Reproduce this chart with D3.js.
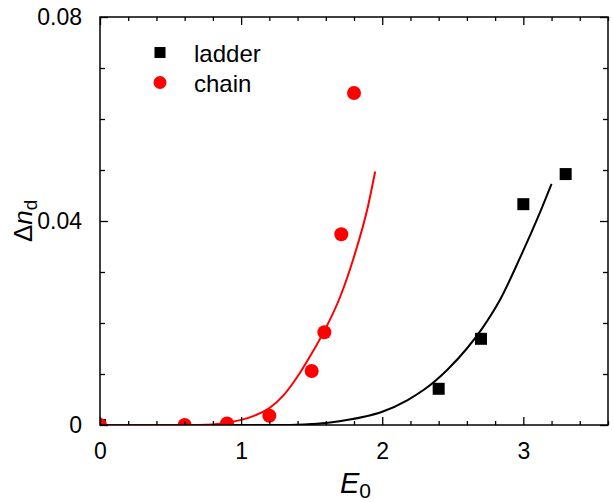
<!DOCTYPE html>
<html>
<head>
<meta charset="utf-8">
<script src="https://cdn.jsdelivr.net/npm/d3@7.9.0/dist/d3.min.js"></script>
<style>
  body { margin: 0; background: #fff; }
  svg text { font-family: "Liberation Sans", Arial, sans-serif; }
</style>
</head>
<body>
<svg id="chart" width="613" height="502"></svg>
<script>
// measured points
const ladderE = [0, 2.4, 2.7, 3.0, 3.3];
const ladderDn = [0, 0.0071, 0.0169, 0.0433, 0.0492];
const chainE = [0, 0.6, 0.9, 1.2, 1.5, 1.59, 1.71, 1.8];
const chainDn = [0, 0, 0.0003, 0.0018, 0.0106, 0.0182, 0.0374, 0.0651];

// fit curves
const chainFitE = [0, 0.7, 0.9, 1.0, 1.1, 1.2, 1.3, 1.4, 1.5, 1.6, 1.7, 1.8, 1.9, 1.95];
const chainFitDn = [0, 0, 0.0004, 0.0010, 0.0019, 0.0033, 0.0058, 0.0095, 0.0140, 0.0190, 0.0250, 0.0330, 0.0430, 0.0497];
const ladderFitE = [0, 1.3, 1.5, 1.63, 1.87, 2.0, 2.18, 2.3, 2.46, 2.6, 2.71, 2.83, 2.98, 3.1, 3.2];
const ladderFitDn = [0, 0, 0.0002, 0.0005, 0.0016, 0.0026, 0.0049, 0.0070, 0.0108, 0.0150, 0.0190, 0.0243, 0.0330, 0.0405, 0.0473];

const xTicks = [0, 1, 2, 3];
const yTicks = [0, 0.04, 0.08];
const yTickLabels = ['0', '0.04', '0.08'];

const margin = { left: 100, top: 17, right: 5, bottom: 77 };
const W = 613, H = 502;
const w = W - margin.left - margin.right;
const h = H - margin.top - margin.bottom;

const svg = d3.select('#chart');
const g = svg.append('g').attr('transform', `translate(${margin.left},${margin.top})`);

const x = d3.scaleLinear().domain([0, 3.6]).range([0, w]);
const y = d3.scaleLinear().domain([0, 0.08]).range([h, 0]);

g.append('clipPath').attr('id', 'clip')
  .append('rect').attr('width', w).attr('height', h);

const plot = g.append('g').attr('clip-path', 'url(#clip)');

const line = d3.line().x(d => x(d[0])).y(d => y(d[1])).curve(d3.curveMonotoneX);

plot.append('path')
  .datum(ladderFitE.map((e, i) => [e, ladderFitDn[i]]))
  .attr('d', line).attr('fill', 'none').attr('stroke', '#000').attr('stroke-width', 2);

plot.append('path')
  .datum(chainFitE.map((e, i) => [e, chainFitDn[i]]))
  .attr('d', line).attr('fill', 'none').attr('stroke', '#ff0000').attr('stroke-width', 2);

const sq = 12;
plot.selectAll('rect.ladder')
  .data(ladderE.map((e, i) => [e, ladderDn[i]]))
  .join('rect').attr('class', 'ladder')
  .attr('x', d => x(d[0]) - sq / 2).attr('y', d => y(d[1]) - sq / 2)
  .attr('width', sq).attr('height', sq).attr('fill', '#000');

plot.selectAll('circle.chain')
  .data(chainE.map((e, i) => [e, chainDn[i]]))
  .join('circle').attr('class', 'chain')
  .attr('cx', d => x(d[0])).attr('cy', d => y(d[1]))
  .attr('r', 7).attr('fill', '#ff0000');

// axes, ticks inward on all four sides
const minorX = d3.range(0, 3.61, 0.2).filter(v => Math.abs(v - Math.round(v)) > 1e-6);
const minorY = d3.range(0, 0.0801, 0.01).filter(v => Math.abs(v * 25 - Math.round(v * 25)) > 1e-6);

function styleAxis(sel) {
  sel.select('.domain').remove();
  sel.selectAll('line').attr('stroke', '#000').attr('stroke-width', 1.3);
  sel.selectAll('text').attr('font-size', 23).attr('fill', '#000');
}

g.append('g').attr('transform', `translate(0,${h})`)
  .call(d3.axisBottom(x).tickValues(xTicks).tickSize(-8).tickPadding(18).tickFormat(d3.format('d')))
  .call(styleAxis);
g.append('g').attr('transform', `translate(0,${h})`)
  .call(d3.axisBottom(x).tickValues(minorX).tickSize(-4).tickFormat(''))
  .call(styleAxis);
g.append('g')
  .call(d3.axisTop(x).tickValues(xTicks).tickSize(-8).tickFormat(''))
  .call(styleAxis);
g.append('g')
  .call(d3.axisTop(x).tickValues(minorX).tickSize(-4).tickFormat(''))
  .call(styleAxis);

g.append('g')
  .call(d3.axisLeft(y).tickValues(yTicks).tickSize(-8).tickPadding(18).tickFormat((d, i) => yTickLabels[i]))
  .call(styleAxis);
g.append('g')
  .call(d3.axisLeft(y).tickValues(minorY).tickSize(-5).tickFormat(''))
  .call(styleAxis);
g.append('g').attr('transform', `translate(${w},0)`)
  .call(d3.axisRight(y).tickValues(yTicks).tickSize(-8).tickFormat(''))
  .call(styleAxis);
g.append('g').attr('transform', `translate(${w},0)`)
  .call(d3.axisRight(y).tickValues(minorY).tickSize(-5).tickFormat(''))
  .call(styleAxis);

g.append('rect').attr('width', w).attr('height', h)
  .attr('fill', 'none').attr('stroke', '#000').attr('stroke-width', 1.5);

// legend
const leg = svg.append('g');
leg.append('rect').attr('x', 154.5).attr('y', 47).attr('width', 11).attr('height', 11).attr('fill', '#000');
leg.append('circle').attr('cx', 160).attr('cy', 82.5).attr('r', 6.5).attr('fill', '#ff0000');
leg.append('text').attr('x', 194).attr('y', 61.5).attr('font-size', 24).text('ladder');
leg.append('text').attr('x', 194).attr('y', 91.5).attr('font-size', 24).text('chain');

// axis titles
const xt = svg.append('text').attr('x', 340).attr('y', 493).attr('font-size', 29);
xt.append('tspan').attr('font-style', 'italic').text('E');
xt.append('tspan').attr('font-size', 21).attr('dy', 5).text('0');

const yt = svg.append('text').attr('transform', 'translate(32,242) rotate(-90)').attr('font-size', 26);
yt.append('tspan').text('Δ');
yt.append('tspan').attr('font-style', 'italic').text('n');
yt.append('tspan').attr('font-size', 19).attr('dy', 5).text('d');
</script>
</body>
</html>
